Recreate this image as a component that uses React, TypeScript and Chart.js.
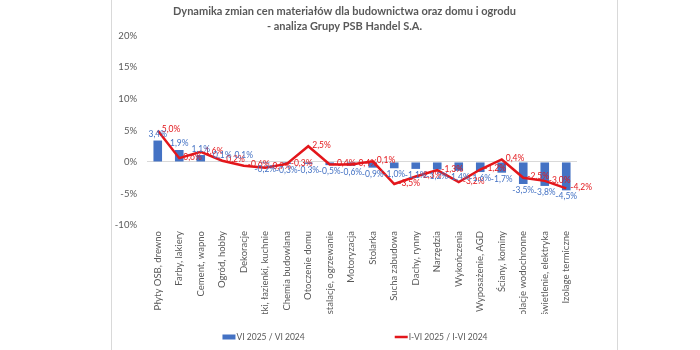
import { useEffect, useRef } from 'react';
import { Chart, registerables } from 'chart.js';

Chart.register(...registerables);

const titleLines = [
  'Dynamika zmian cen materiałów dla budownictwa oraz domu i ogrodu',
  '- analiza Grupy PSB Handel S.A.',
];

const categories = [
  'Płyty OSB, drewno',
  'Farby, lakiery',
  'Cement, wapno',
  'Ogród, hobby',
  'Dekoracje',
  'Płytki, łazienki, kuchnie',
  'Chemia budowlana',
  'Otoczenie domu',
  'Instalacje, ogrzewanie',
  'Motoryzacja',
  'Stolarka',
  'Sucha zabudowa',
  'Dachy, rynny',
  'Narzędzia',
  'Wykończenia',
  'Wyposażenie, AGD',
  'Ściany, kominy',
  'Izolacje wodochronne',
  'Oświetlenie, elektryka',
  'Izolage termiczne',
];

const barLabel = 'VI 2025 / VI 2024';
const barValues = [3.4, 1.9, 1.1, 0.1, 0.1, -0.2, -0.3, -0.3, -0.5, -0.6, -0.9, -1.0, -1.1, -1.2, -1.4, -1.6, -1.7, -3.5, -3.8, -4.5];

const lineLabel = 'I-VI 2025 / I-VI 2024';
const lineValues = [5.0, 0.6, 1.6, 0.2, -0.6, -0.9, -0.3, 2.5, -0.4, -0.4, 0.1, -3.5, -2.3, -1.3, -3.2, -1.2, 0.4, -2.5, -3.0, -4.2];

const yMin = -10;
const yMax = 20;
const yStep = 5;

const BLUE = '#4472C4';
const RED = '#E3161B';
const GRAY = '#595959';
const FRAME = '#D9D9D9';
const FONT = 'Lato, "Open Sans", sans-serif';

const fmt = (v: number) => v.toFixed(1).replace('.', ',') + '%';

const decorPlugin = {
  id: 'decor',
  beforeDraw(chart: any) {
    const { ctx, height } = chart;
    ctx.save();
    ctx.strokeStyle = FRAME;
    ctx.lineWidth = 1;
    ctx.beginPath();
    ctx.moveTo(111.5, 0);
    ctx.lineTo(111.5, height);
    ctx.moveTo(617.5, 0);
    ctx.lineTo(617.5, height);
    ctx.stroke();
    ctx.restore();
  },
  afterDatasetsDraw(chart: any) {
    const ctx = chart.ctx;
    ctx.save();
    ctx.font = `8.5px ${FONT}`;
    chart.data.datasets.forEach((ds: any, di: number) => {
      const meta = chart.getDatasetMeta(di);
      meta.data.forEach((el: any, i: number) => {
        const v = ds.data[i] as number;
        if (ds.type === 'bar') {
          ctx.fillStyle = BLUE;
          ctx.textAlign = 'center';
          if (v >= 0) {
            ctx.textBaseline = 'bottom';
            ctx.fillText(fmt(v), el.x, el.y - 2);
          } else {
            ctx.textBaseline = 'top';
            ctx.fillText(fmt(v), el.x, el.y + 2);
          }
        } else {
          ctx.fillStyle = RED;
          ctx.textAlign = 'left';
          ctx.textBaseline = 'middle';
          ctx.fillText(fmt(v), el.x + 4, el.y - 1);
        }
      });
    });
    ctx.restore();
  },
  afterDraw(chart: any) {
    const ctx = chart.ctx;
    const area = chart.chartArea;
    ctx.save();
    // clip long category labels like the reference's label box
    ctx.fillStyle = '#fff';
    ctx.fillRect(area.left - 30, 314, area.right - area.left + 60, 16);
    ctx.font = `8.5px ${FONT}`;
    const items = chart.data.datasets
      .slice()
      .sort((a: any) => (a.type === 'bar' ? -1 : 1))
      .map((d: any) => ({ label: d.label, type: d.type, color: d.type === 'bar' ? BLUE : RED }));
    const box = 13;
    const gap = 90;
    const widths = items.map((it: any) => box + 1 + ctx.measureText(it.label).width);
    const total = widths.reduce((a: number, b: number) => a + b, 0) + gap * (items.length - 1);
    let x = chart.width / 2 + 5 - total / 2;
    const y = 337;
    items.forEach((it: any, i: number) => {
      if (it.type === 'bar') {
        ctx.fillStyle = it.color;
        ctx.fillRect(x, y - 2.5, box, 5);
      } else {
        ctx.strokeStyle = it.color;
        ctx.lineWidth = 2.5;
        ctx.beginPath();
        ctx.moveTo(x, y);
        ctx.lineTo(x + box, y);
        ctx.stroke();
      }
      ctx.fillStyle = GRAY;
      ctx.textAlign = 'left';
      ctx.textBaseline = 'middle';
      ctx.fillText(it.label, x + box + 1, y);
      x += widths[i] + gap;
    });
    ctx.restore();
  },
};

export default function App() {
  const ref = useRef<HTMLCanvasElement | null>(null);

  useEffect(() => {
    document.body.style.margin = '0';
    if (!ref.current) return;
    const chart = new Chart(ref.current, {
      type: 'bar',
      data: {
        labels: categories,
        datasets: [
          {
            type: 'line',
            label: lineLabel,
            data: lineValues,
            borderColor: RED,
            backgroundColor: RED,
            borderWidth: 2.5,
            pointRadius: 0,
            tension: 0,
            order: 1,
          } as any,
          {
            type: 'bar',
            label: barLabel,
            data: barValues,
            backgroundColor: BLUE,
            borderWidth: 0,
            categoryPercentage: 1,
            barPercentage: 0.4,
            order: 2,
          } as any,
        ],
      },
      options: {
        responsive: false,
        maintainAspectRatio: false,
        animation: false,
        layout: { padding: { left: 112, right: 123, top: 0, bottom: 25 } },
        plugins: {
          legend: { display: false },
          tooltip: { enabled: false },
          title: {
            display: true,
            text: titleLines,
            color: GRAY,
            font: { family: FONT, size: 11, weight: 'bold', lineHeight: 1.45 },
            padding: { top: 3, bottom: 1 },
          },
        },
        scales: {
          x: {
            grid: { display: false, drawTicks: false },
            border: { display: false },
            ticks: {
              color: GRAY,
              font: { family: FONT, size: 9.5 },
              minRotation: 90,
              maxRotation: 90,
              autoSkip: false,
              padding: 6,
            },
            afterFit: (s: any) => {
              s.height = 100;
            },
          },
          y: {
            min: yMin,
            max: yMax,
            grid: {
              drawTicks: false,
              color: (c: any) => (c.tick && c.tick.value === 0 ? FRAME : 'rgba(0,0,0,0)'),
            },
            border: { display: false },
            ticks: {
              stepSize: yStep,
              color: GRAY,
              font: { family: FONT, size: 9.5 },
              padding: 10,
              callback: (v: any) => v + '%',
            },
            afterFit: (s: any) => {
              s.width = 35;
            },
          },
        },
      },
      plugins: [decorPlugin],
    });
    return () => chart.destroy();
  }, []);

  return (
    <div style={{ width: 700, height: 350, background: '#fff' }}>
      <canvas ref={ref} width={700} height={350} style={{ width: 700, height: 350, display: 'block' }} />
    </div>
  );
}
